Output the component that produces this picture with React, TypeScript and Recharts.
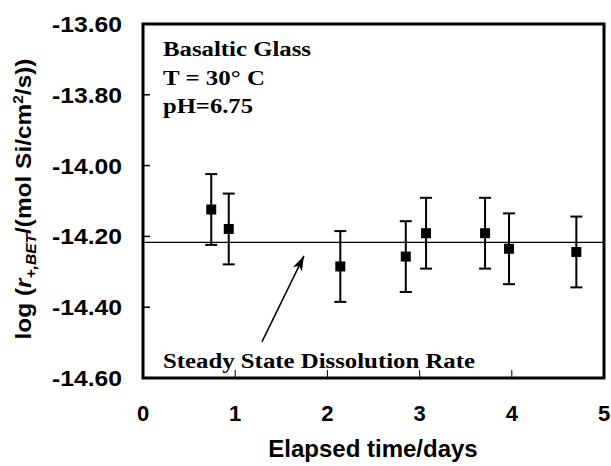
import React from 'react';
import { ComposedChart, Scatter, ErrorBar, XAxis, YAxis, ReferenceLine, ReferenceArea, Line } from 'recharts';

const days = [0.74, 0.93, 2.14, 2.85, 3.07, 3.71, 3.97, 4.7];
const logRate = [-14.124, -14.179, -14.285, -14.257, -14.191, -14.191, -14.235, -14.244];
const rateError = [0.1, 0.1, 0.1, 0.1, 0.1, 0.1, 0.1, 0.1];
const steadyState = -14.217;
const arrowX = [1.29, 1.746];
const arrowY = [-14.498, -14.255];
const xTicks = [0, 1, 2, 3, 4, 5];
const yTicks = [-14.6, -14.4, -14.2, -14.0, -13.8, -13.6];

const points = days.map((d, i) => ({ x: d, y: logRate[i], err: rateError[i] }));
const arrowData = arrowX.map((x, i) => ({ x, y: arrowY[i] }));

const SANS = '"Liberation Sans", Arial, Helvetica, sans-serif';
const SERIF = '"Liberation Serif", "Times New Roman", Times, serif';

const Square = (props: any) => {
  const { cx, cy } = props;
  return <rect x={cx - 5} y={cy - 5} width={10} height={10} fill="#000" />;
};

const YTick = (props: any) => {
  const { x, y, payload } = props;
  return (
    <text x={x} y={y} dy={8} textAnchor="end" fontFamily={SANS} fontWeight="bold" fontSize={22} fill="#000"
      textLength={70} lengthAdjust="spacingAndGlyphs">
      {Number(payload.value).toFixed(2)}
    </text>
  );
};

const XTick = (props: any) => {
  const { x, y, payload } = props;
  return (
    <text x={x} y={y} dy={8} textAnchor="middle" fontFamily={SANS} fontWeight="bold" fontSize={22} fill="#000">
      {payload.value}
    </text>
  );
};

export default function App() {
  return (
    <div style={{ position: 'absolute', left: 0, top: 0, width: 611, height: 466, background: '#fff' }}>
      <ComposedChart width={611} height={466} margin={{ top: 24, right: 7, bottom: 0, left: 0 }}>
        <XAxis type="number" dataKey="x" domain={[0, 5]} ticks={xTicks} allowDataOverflow axisLine={false}
          tickSize={-8} tickMargin={43} tickLine={{ stroke: '#000', strokeWidth: 1 }} height={88} tick={<XTick />} />
        <YAxis type="number" dataKey="y" domain={[-14.6, -13.6]} ticks={yTicks} allowDataOverflow axisLine={false}
          tickSize={-7} tickMargin={28} tickLine={{ stroke: '#000', strokeWidth: 1.5 }} width={143} tick={<YTick />} />
        <ReferenceLine y={steadyState} stroke="#000" strokeWidth={1.3} />
        <Line data={arrowData} dataKey="y" dot={false} activeDot={false} stroke="#000" strokeWidth={1.5}
          markerEnd="url(#arrowHead)" isAnimationActive={false} legendType="none" />
        <Scatter data={points} dataKey="y" shape={<Square />} isAnimationActive={false}>
          <ErrorBar dataKey="err" direction="y" width={6} stroke="#000" strokeWidth={2} />
        </Scatter>
        <ReferenceArea x1={0} x2={5} y1={-14.6} y2={-13.6} fill="none" fillOpacity={0} stroke="#000" strokeWidth={3} />
      </ComposedChart>
      <svg width={611} height={466} style={{ position: 'absolute', left: 0, top: 0, pointerEvents: 'none' }}>
        <defs>
          <marker id="arrowHead" markerUnits="userSpaceOnUse" markerWidth={16} markerHeight={12} refX={15} refY={6} orient="auto">
            <path d="M0,1 L15,6 L0,11 L4,6 Z" fill="#000" />
          </marker>
        </defs>
        <g fontFamily={SERIF} fontWeight="bold" fontSize={20} fill="#000">
          <text x={163} y={56} textLength={148} lengthAdjust="spacingAndGlyphs">Basaltic Glass</text>
          <text x={163} y={85} textLength={102} lengthAdjust="spacingAndGlyphs">T = 30° C</text>
          <text x={163} y={113} textLength={90} lengthAdjust="spacingAndGlyphs">pH=6.75</text>
          <text x={163} y={368} textLength={312} lengthAdjust="spacingAndGlyphs">Steady State Dissolution Rate</text>
        </g>
        <text x={373} y={457} textAnchor="middle" fontFamily={SANS} fontWeight="bold" fontSize={24} fill="#000">
          Elapsed time/days
        </text>
        <text transform="translate(31,199) rotate(-90) scale(1.11,1)" textAnchor="middle" fontFamily={SANS}
          fontWeight="bold" fontSize={22} fill="#000">
          log (<tspan fontStyle="italic">r</tspan>
          <tspan fontStyle="italic" fontSize={14} dy={5}>+,BET</tspan>
          <tspan dy={-5}>/(mol Si/cm</tspan>
          <tspan fontSize={14} dy={-8}>2</tspan>
          <tspan dy={8}>/s))</tspan>
        </text>
      </svg>
    </div>
  );
}
